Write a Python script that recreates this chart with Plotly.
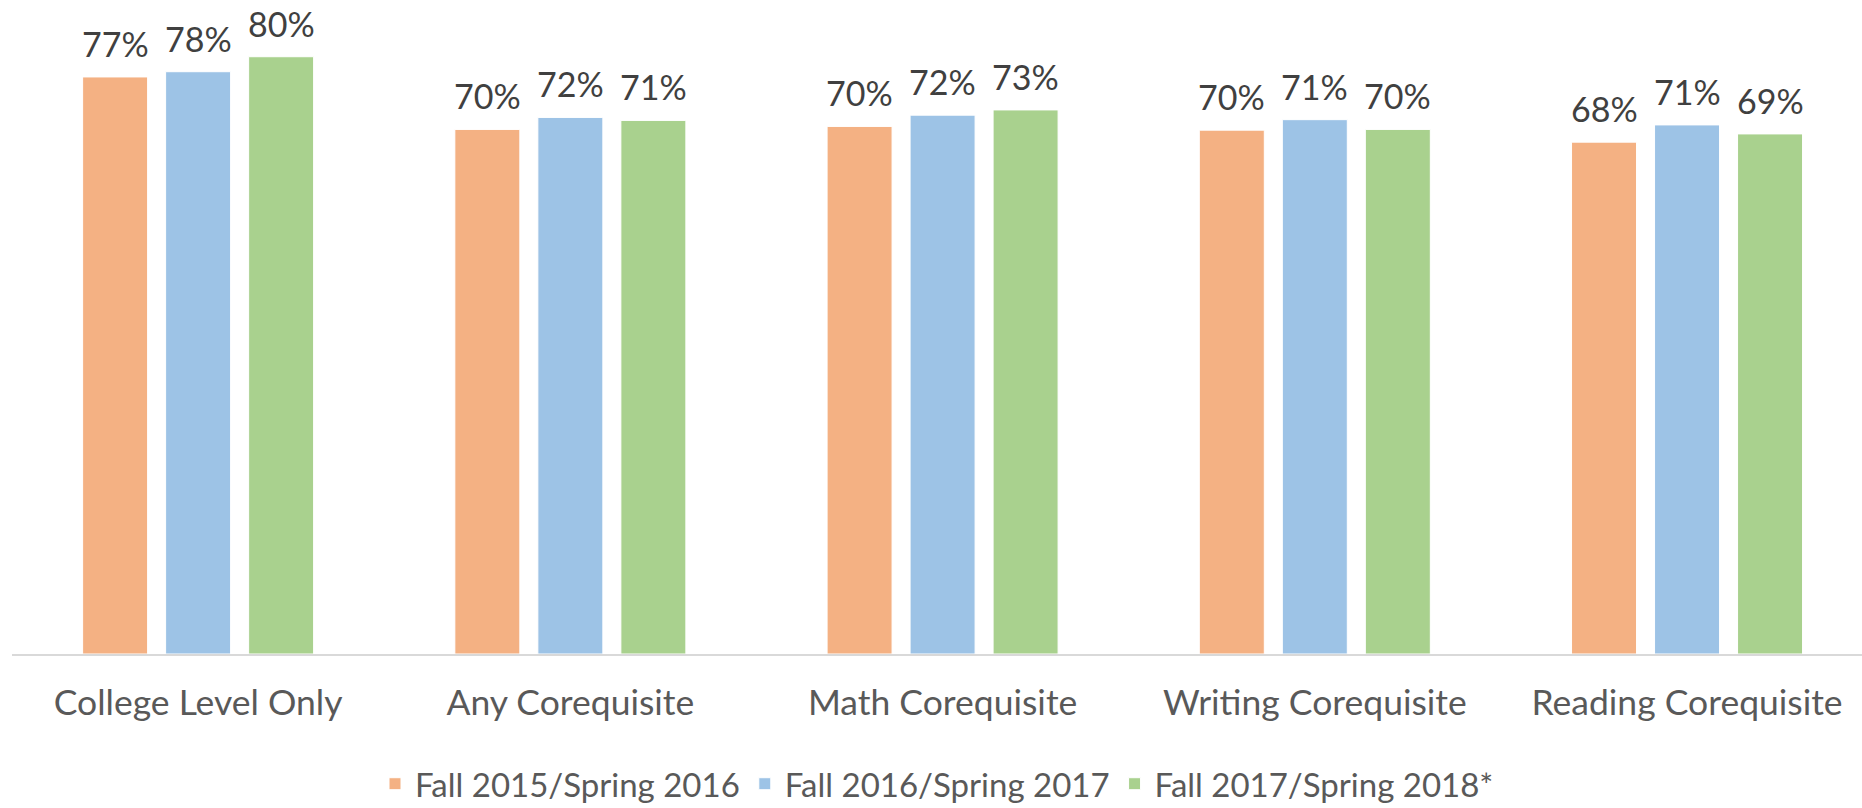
import plotly.graph_objects as go

categories = ["College Level Only", "Any Corequisite", "Math Corequisite",
              "Writing Corequisite", "Reading Corequisite"]
series_names = ["Fall 2015/Spring 2016", "Fall 2016/Spring 2017", "Fall 2017/Spring 2018*"]
fall2015 = [77.0, 70.0, 70.4, 69.9, 68.3]
fall2016 = [77.7, 71.6, 71.9, 71.3, 70.6]
fall2017 = [79.7, 71.2, 72.6, 70.0, 69.4]
colors = ["#F4B183", "#9DC3E6", "#A9D18E"]

series = [fall2015, fall2016, fall2017]
FONT = "Lato"

fig = go.Figure()
for name, vals, col in zip(series_names, series, colors):
    fig.add_trace(go.Bar(
        x=categories, y=vals, name=name,
        marker=dict(color=col, line=dict(color="white", width=1)),
    ))

shifts = [-83, 0, 83]
for vals, dx in zip(series, shifts):
    for c, v in zip(categories, vals):
        fig.add_annotation(
            x=c, y=v, xref="x", yref="y", text=f"{round(v)}%",
            showarrow=False, xshift=dx, yshift=11, yanchor="bottom",
            font=dict(family=FONT, size=34, color="#404040"),
        )

fig.update_layout(
    width=1862, height=808,
    margin=dict(l=12, r=0, t=17, b=154),
    paper_bgcolor="white", plot_bgcolor="white",
    barmode="group", bargap=0.331, bargroupgap=0.217,
    font=dict(family=FONT, color="#595959"),
    showlegend=True,
    legend=dict(orientation="h", x=0.5, xanchor="center",
                yref="container", y=0.03, yanchor="middle",
                font=dict(family=FONT, size=33, color="#595959"),
                itemwidth=30, traceorder="normal"),
    xaxis=dict(range=[-0.5, 4.47], showline=True, linecolor="#D9D9D9", linewidth=2,
               ticks="outside", ticklen=16, tickcolor="rgba(0,0,0,0)",
               tickfont=dict(family=FONT, size=35.5, color="#595959"),
               showgrid=False),
    yaxis=dict(range=[0, 85], visible=False, showgrid=False, zeroline=False),
)

fig.write_html("out.html", config={"displayModeBar": False})
with open("out.html", "r", encoding="utf-8") as f:
    html = f.read()
html = html.replace("<head>", "<head><style>html,body{margin:0;padding:0;overflow:hidden}</style>", 1)
with open("out.html", "w", encoding="utf-8") as f:
    f.write(html)
